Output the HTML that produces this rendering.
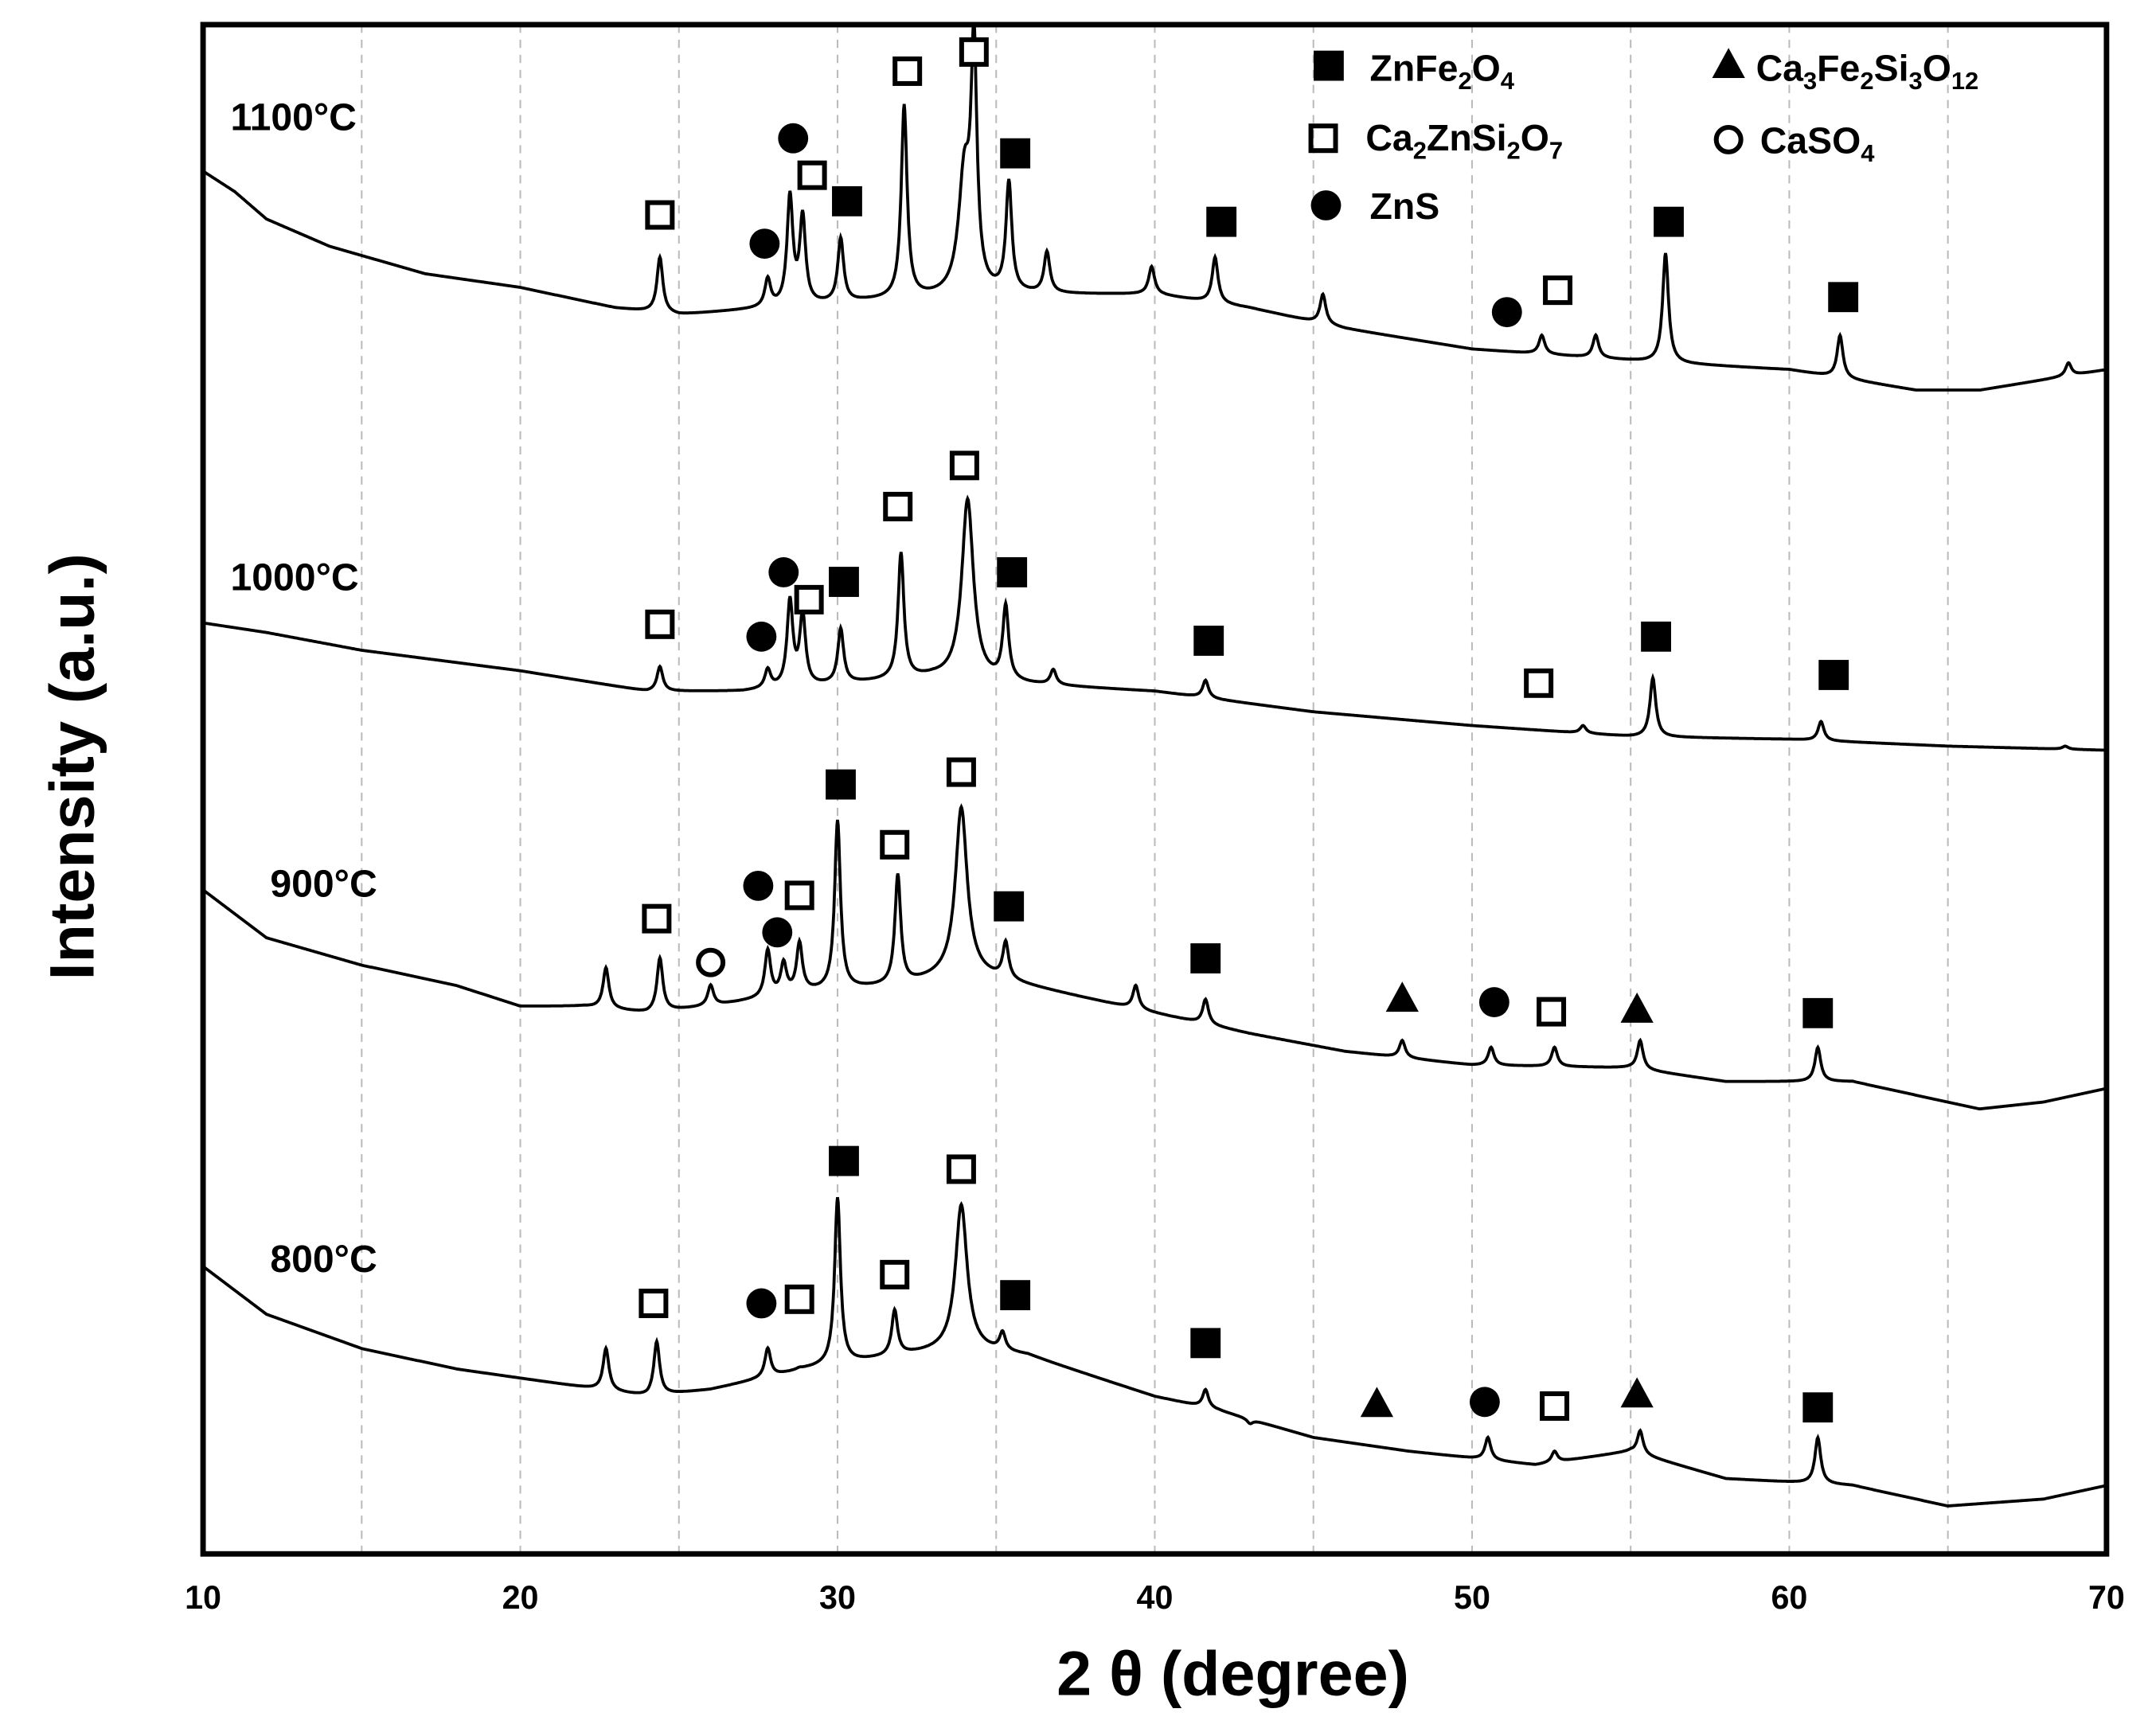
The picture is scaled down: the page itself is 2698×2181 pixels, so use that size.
<!DOCTYPE html>
<html><head><meta charset="utf-8"><style>
html,body{margin:0;padding:0;background:#fff}
svg{display:block}
text{font-family:"Liberation Sans",Arial,sans-serif}
</style></head><body>
<svg id="chart" width="2698" height="2181" viewBox="0 0 1568 1268" xmlns="http://www.w3.org/2000/svg">
<defs><clipPath id="plotclip"><rect x="148" y="18" width="1390" height="1117"/></clipPath></defs>
<rect x="0" y="0" width="1568" height="1268" fill="#fff"/>
<g id="grid"></g>
<g id="series" clip-path="url(#plotclip)"></g>
<g id="markers"></g>
<rect x="148" y="18" width="1390" height="1117" fill="none" stroke="#000" stroke-width="4"/>
<g id="ticks"></g>
<text x="900" y="1238" text-anchor="middle" font-size="46" font-weight="bold">2 θ (degree)</text>
<text transform="translate(68,560) rotate(-90)" text-anchor="middle" font-size="46" font-weight="bold">Intensity (a.u.)</text>
<text x="168" y="95" font-size="28" font-weight="bold">1100°C</text>
<text x="168" y="431" font-size="28" font-weight="bold">1000°C</text>
<text x="197" y="655" font-size="28" font-weight="bold">900°C</text>
<text x="197" y="929" font-size="28" font-weight="bold">800°C</text>
<g font-size="27" font-weight="bold">
<rect x="959" y="37" width="22" height="22" fill="#000"/><text x="1000" y="59">ZnFe<tspan font-size="18" dy="6">2</tspan><tspan dy="-6">O</tspan><tspan font-size="18" dy="6">4</tspan></text>
<rect x="957" y="92" width="18" height="18" fill="none" stroke="#000" stroke-width="3.5"/><text x="997" y="110">Ca<tspan font-size="18" dy="6">2</tspan><tspan dy="-6">ZnSi</tspan><tspan font-size="18" dy="6">2</tspan><tspan dy="-6">O</tspan><tspan font-size="18" dy="6">7</tspan></text>
<circle cx="968" cy="150" r="11" fill="#000"/><text x="1000" y="160">ZnS</text>
<polygon points="1262,35 1274,57 1250,57" fill="#000"/><text x="1282" y="59">Ca<tspan font-size="18" dy="6">3</tspan><tspan dy="-6">Fe</tspan><tspan font-size="18" dy="6">2</tspan><tspan dy="-6">Si</tspan><tspan font-size="18" dy="6">3</tspan><tspan dy="-6">O</tspan><tspan font-size="18" dy="6">12</tspan></text>
<circle cx="1262" cy="102" r="9" fill="none" stroke="#000" stroke-width="3.5"/><text x="1285" y="112">CaSO<tspan font-size="18" dy="6">4</tspan></text>
</g>
</svg>
<script>
// x-axis ticks
const xTicks = [10,20,30,40,50,60,70];
const gridX = [15,20,25,30,35,40,45,50,55,60,65];
// baselines: degree / intensity (intensity = plot units above bottom)
const b1100x = [10,11,12,14,17,20,23,25,28,31,35,38,40,43,46,50,53,56,60,64,66,70];
const b1100y = [1010,995,975,955,935,925,910,905,910,915,920,920,920,910,895,880,875,870,865,850,850,865];
const p1100x = [24.4,27.8,28.5,28.9,30.1,32.1,34.0,34.3,35.4,36.6,39.9,41.9,45.3,52.2,53.9,56.1,61.6,68.8];
const p1100y = [947,930,990,975,960,1057,1005,1090,1000,950,940,947,920,890,890,950,890,870];
const b1000x = [10,12,15,20,24,27,30,33,36,40,45,50,55,60,65,70];
const b1000y = [680,673,660,645,630,630,635,640,635,630,615,605,597,595,590,587];
const p1000x = [24.4,27.8,28.5,28.9,30.1,32.0,34.1,35.3,36.8,41.6,45.0,53.5,55.7,61.0,68.7];
const p1000y = [648,645,695,685,675,730,770,690,645,638,615,605,640,608,590];
const b900x = [10,12,15,18,20,22,24,26,29,32,34,36,40,43,46,50,55,58,62,66,68,70];
const b900y = [485,450,430,415,400,400,395,400,410,415,425,415,395,380,367,357,355,345,345,325,330,340];
const p900x = [22.7,24.4,26.0,27.8,28.3,28.8,30.0,31.9,33.9,35.3,39.4,41.6,47.8,50.6,52.6,55.3,60.9];
const p900y = [428,435,415,440,430,445,535,495,545,445,415,405,375,370,370,375,370];
const b800x = [10,12,15,18,21,24,26,29,32,34,36,38,40,42,45,48,52,55,58,62,65,68,70];
const b800y = [210,175,150,135,125,115,120,135,145,150,145,130,115,105,85,75,65,75,55,50,35,40,50];
const p800x = [22.7,24.3,27.8,28.8,30.0,31.8,33.9,35.2,41.6,43.0,50.5,52.6,55.3,60.9];
const p800y = [150,155,150,135,260,177,255,160,120,95,85,75,90,85];

const X0=148,X1=1538,YB=1135;
const xs = d => X0 + (d-10)*(X1-X0)/60;
const ys = v => YB - v;
const NS='http://www.w3.org/2000/svg';
function interp(bx,by,d){for(let i=0;i<bx.length-1;i++){if(d<=bx[i+1]){const t=(d-bx[i])/(bx[i+1]-bx[i]);return by[i]+t*(by[i+1]-by[i]);}}return by[by.length-1];}
function pattern(bx,by,px,py,name){
  const pts=[];
  for(let d=10;d<=70.001;d+=0.02){
    let v=interp(bx,by,d);
    for(let k=0;k<px.length;k++){
      const h=py[k]-interp(bx,by,px[k]);
      const w=(h>80&&(px[k]>33.5&&px[k]<34.2))?0.22:0.11;
      const u=(d-px[k])/w; v+=h/(1+u*u);
    }
    pts.push(xs(d).toFixed(1)+','+ys(v).toFixed(1));
  }
  const pl=document.createElementNS(NS,'polyline');
  pl.setAttribute('points',pts.join(' '));
  pl.setAttribute('fill','none');pl.setAttribute('stroke','#000');pl.setAttribute('stroke-width','2.2');
  
  
  document.getElementById('series').appendChild(pl);
}
pattern(b1100x,b1100y,p1100x,p1100y,'pattern-1100c');
pattern(b1000x,b1000y,p1000x,p1000y,'pattern-1000c');
pattern(b900x,b900y,p900x,p900y,'pattern-900c');
pattern(b800x,b800y,p800x,p800y,'pattern-800c');

const g=document.getElementById('grid');
gridX.forEach(d=>{const l=document.createElementNS(NS,'line');
l.setAttribute('x1',xs(d));l.setAttribute('x2',xs(d));l.setAttribute('y1',18);l.setAttribute('y2',YB);
l.setAttribute('stroke','#bbb');l.setAttribute('stroke-width','1.2');l.setAttribute('stroke-dasharray','6,5');


g.appendChild(l);});
const tk=document.getElementById('ticks');
xTicks.forEach(d=>{const t=document.createElementNS(NS,'text');
t.setAttribute('x',xs(d));t.setAttribute('y',1175);t.setAttribute('text-anchor','middle');
t.setAttribute('font-size','24');t.setAttribute('font-weight','bold');t.textContent=d;


tk.appendChild(t);});

// markers: degree, y (plot px from top)
const fsqX=[30.3,35.6,42.1,56.2,61.7,30.2,35.5,41.7,55.8,61.4,30.1,35.4,41.6,60.9,30.2,35.6,41.6,60.9];
const fsqY=[147,112,162,162,217,425,418,468,465,493,573,662,700,740,848,946,981,1028];
const osqX=[24.4,29.2,32.2,34.3,52.7,24.4,29.1,31.9,34.0,52.1,24.3,28.8,31.8,33.9,52.5,24.2,28.8,31.8,33.9,52.6];
const osqY=[157,128,52,38,212,456,438,370,340,499,671,654,617,564,739,952,949,931,854,1027];
const dotX=[27.7,28.6,51.1,27.6,28.3,27.5,28.1,50.7,27.6,50.4];
const dotY=[178,101,228,465,418,647,681,732,952,1024];
const triX=[47.8,55.2,47.0,55.2];
const triY=[729,737,1025,1018];
const ocX=[26.0];
const ocY=[703];
const mk=document.getElementById('markers');
function add(el,name){

mk.appendChild(el);}
fsqX.forEach((d,i)=>{const r=document.createElementNS(NS,'rect');r.setAttribute('x',xs(d)-11);r.setAttribute('y',fsqY[i]-11);r.setAttribute('width',22);r.setAttribute('height',22);r.setAttribute('fill','#000');add(r,'znfe2o4-marker');});
osqX.forEach((d,i)=>{const r=document.createElementNS(NS,'rect');r.setAttribute('x',xs(d)-9);r.setAttribute('y',osqY[i]-9);r.setAttribute('width',18);r.setAttribute('height',18);r.setAttribute('fill','#fff');r.setAttribute('stroke','#000');r.setAttribute('stroke-width','3.5');add(r,'ca2znsi2o7-marker');});
dotX.forEach((d,i)=>{const c=document.createElementNS(NS,'circle');c.setAttribute('cx',xs(d));c.setAttribute('cy',dotY[i]);c.setAttribute('r',11);c.setAttribute('fill','#000');add(c,'zns-marker');});
triX.forEach((d,i)=>{const p=document.createElementNS(NS,'polygon');const x=xs(d),y=triY[i];p.setAttribute('points',`${x},${y-12} ${x+12},${y+10} ${x-12},${y+10}`);p.setAttribute('fill','#000');add(p,'ca3fe2si3o12-marker');});
ocX.forEach((d,i)=>{const c=document.createElementNS(NS,'circle');c.setAttribute('cx',xs(d));c.setAttribute('cy',ocY[i]);c.setAttribute('r',9);c.setAttribute('fill','#fff');c.setAttribute('stroke','#000');c.setAttribute('stroke-width','3.5');add(c,'caso4-marker');});
</script>
</body></html>
